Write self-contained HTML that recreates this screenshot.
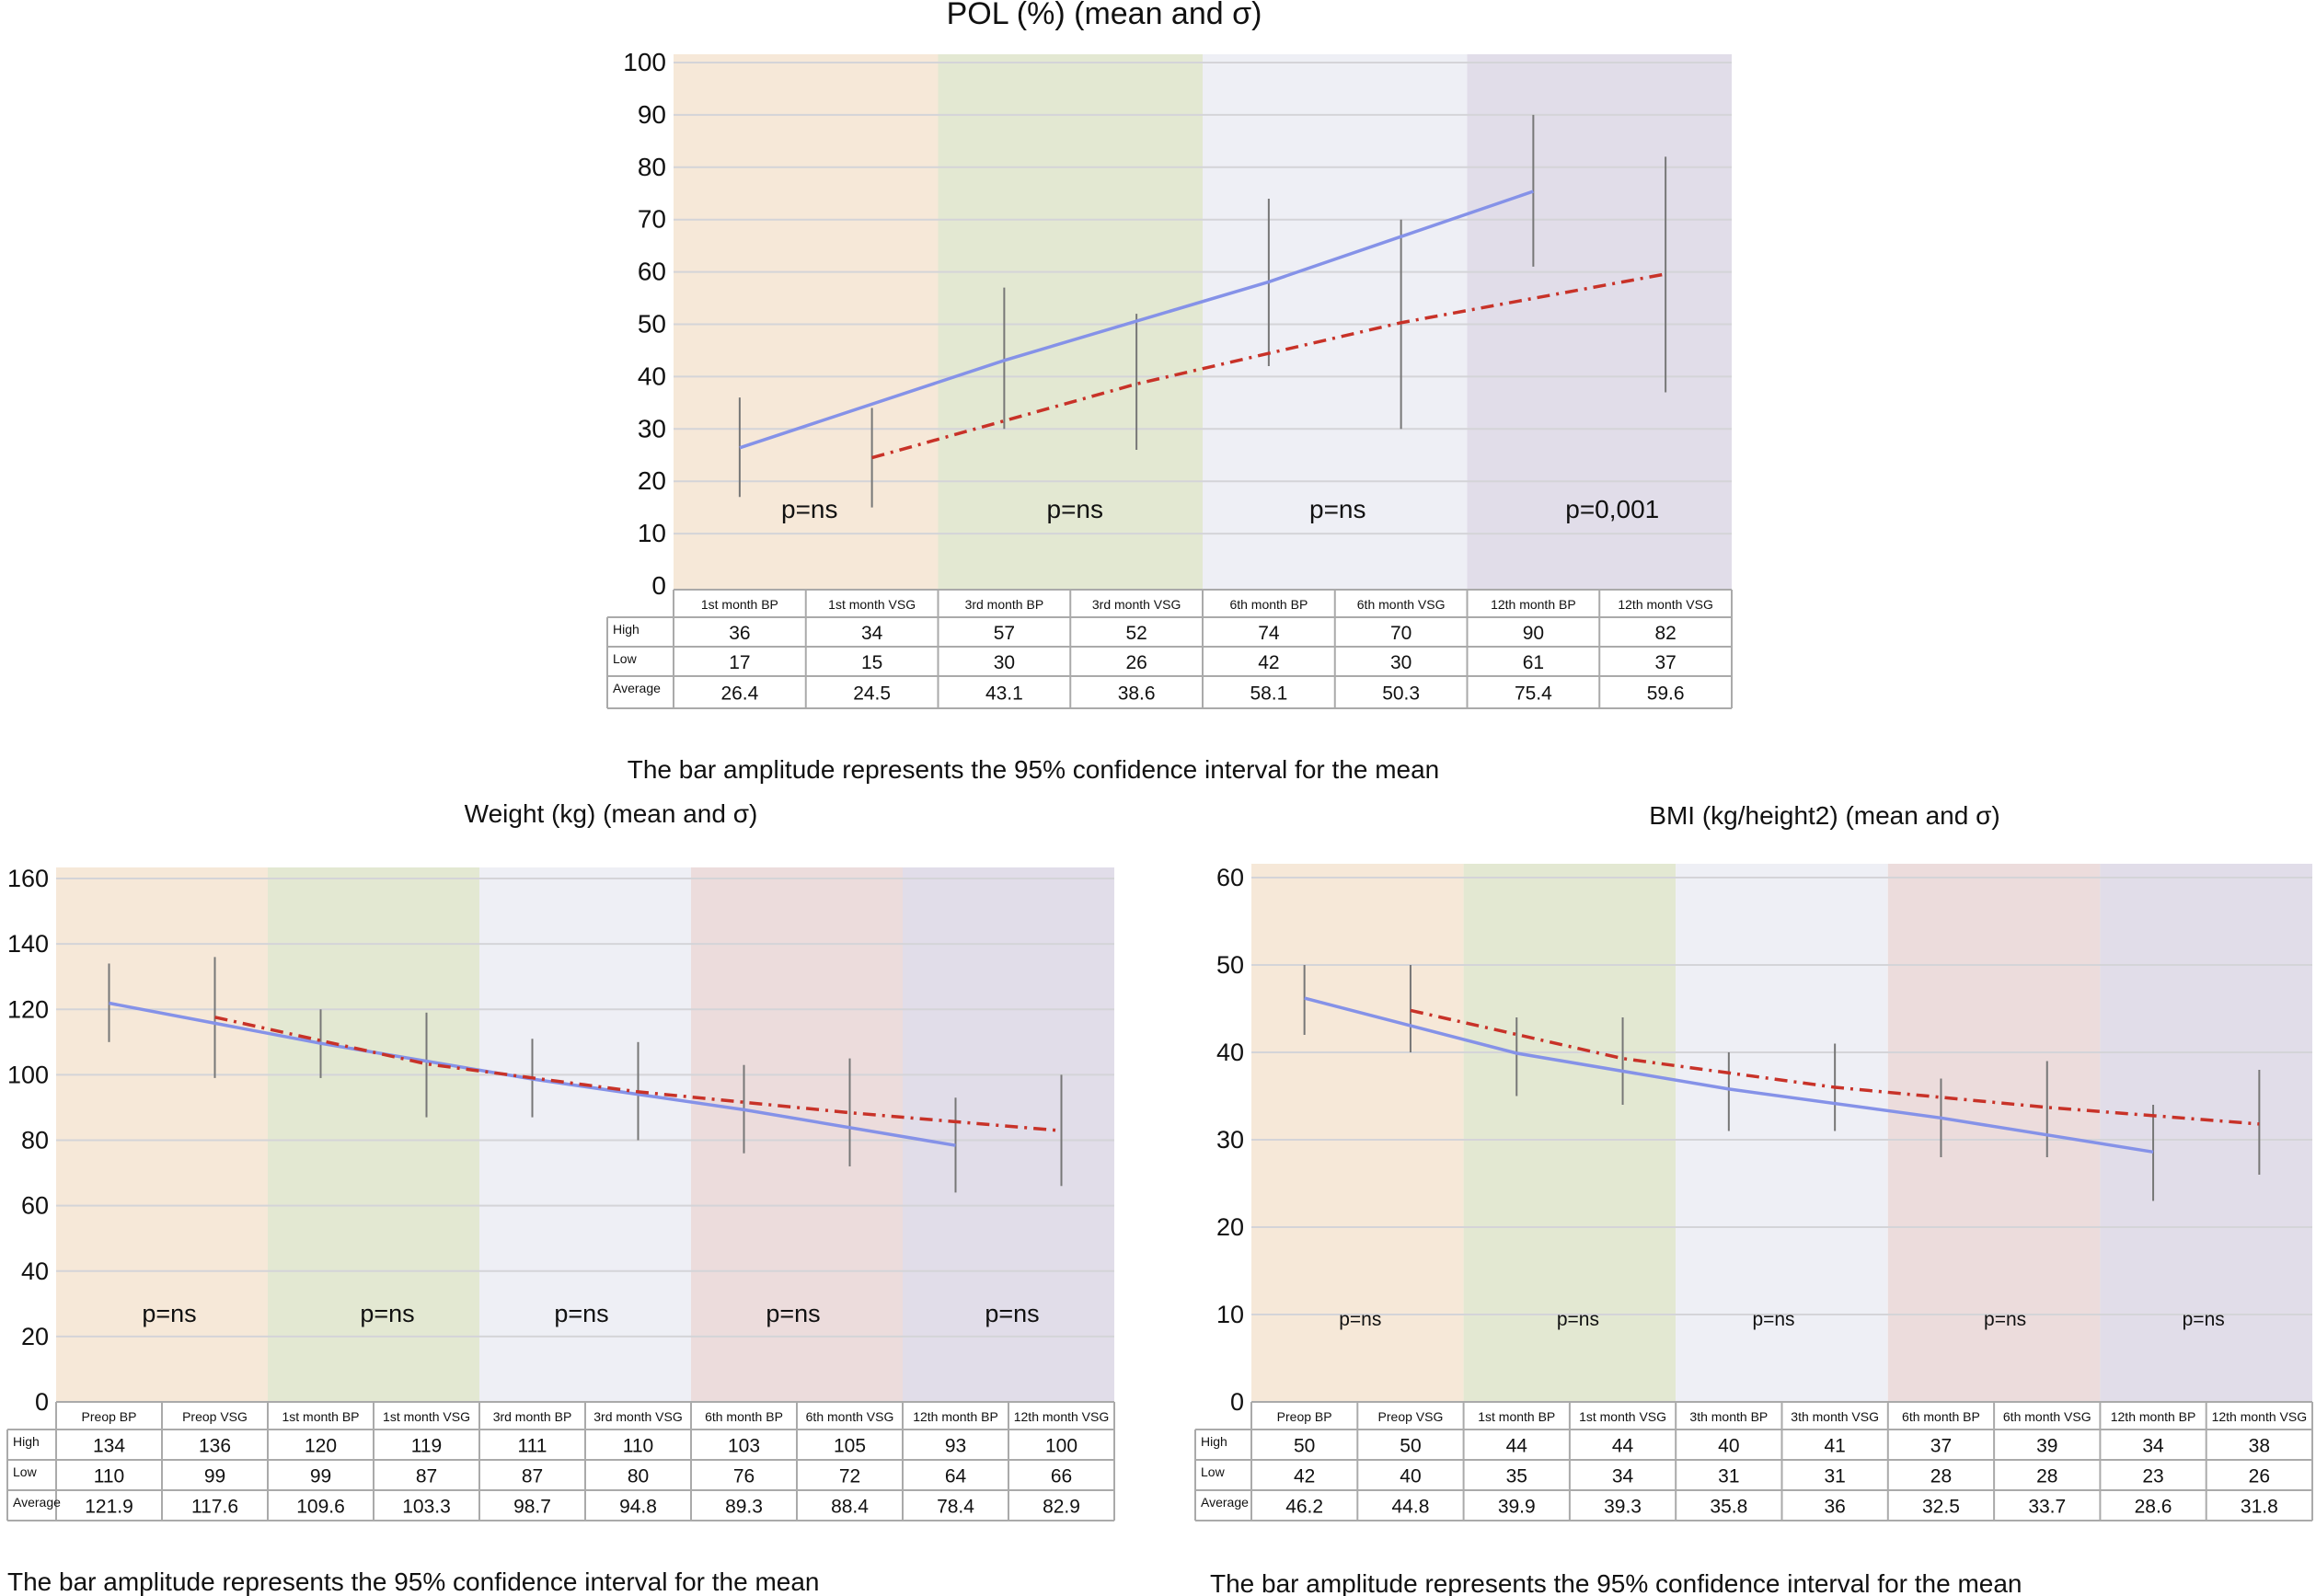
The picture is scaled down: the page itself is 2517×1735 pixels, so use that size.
<!DOCTYPE html>
<html><head><meta charset="utf-8"><style>
html,body{margin:0;padding:0;background:#fff;}
svg{display:block;font-family:"Liberation Sans",sans-serif;}
</style></head><body>
<svg id="root" width="2517" height="1735" viewBox="0 0 2517 1735"></svg>
<script>
// ---- POL chart data ----
const polCategories = ["1st month BP","1st month VSG","3rd month BP","3rd month VSG","6th month BP","6th month VSG","12th month BP","12th month VSG"];
const polHigh = [36,34,57,52,74,70,90,82];
const polLow = [17,15,30,26,42,30,61,37];
const polAvg = [26.4,24.5,43.1,38.6,58.1,50.3,75.4,59.6];
const polTicks = [0,10,20,30,40,50,60,70,80,90,100];
const polP = ["p=ns","p=ns","p=ns","p=0,001"];
// ---- Weight chart data ----
const wCategories = ["Preop BP","Preop VSG","1st month BP","1st month VSG","3rd month BP","3rd month VSG","6th month BP","6th month VSG","12th month BP","12th month VSG"];
const wHigh = [134,136,120,119,111,110,103,105,93,100];
const wLow = [110,99,99,87,87,80,76,72,64,66];
const wAvg = [121.9,117.6,109.6,103.3,98.7,94.8,89.3,88.4,78.4,82.9];
const wTicks = [0,20,40,60,80,100,120,140,160];
const wP = ["p=ns","p=ns","p=ns","p=ns","p=ns"];
// ---- BMI chart data ----
const bCategories = ["Preop BP","Preop VSG","1st month BP","1st month VSG","3th month BP","3th month VSG","6th month BP","6th month VSG","12th month BP","12th month VSG"];
const bHigh = [50,50,44,44,40,41,37,39,34,38];
const bLow = [42,40,35,34,31,31,28,28,23,26];
const bAvg = [46.2,44.8,39.9,39.3,35.8,36,32.5,33.7,28.6,31.8];
const bTicks = [0,10,20,30,40,50,60];
const bP = ["p=ns","p=ns","p=ns","p=ns","p=ns"];

const NS="http://www.w3.org/2000/svg";
const root=document.getElementById('root');
function mk(tag,attrs,parent){const e=document.createElementNS(NS,tag);for(const k in attrs)e.setAttribute(k,attrs[k]);(parent||root).appendChild(e);return e;}

function chart(cfg){
  const g=mk('g',{});
  
  
  const n=cfg.cats.length;
  const colW=(cfg.x1-cfg.x0)/n;
  const xc=i=>cfg.x0+(i+0.5)*colW;
  const ymax=cfg.ticks[cfg.ticks.length-1];
  const y=v=>cfg.yb-(v/ymax)*(cfg.yb-cfg.yt);
  const nb=cfg.bands.length;
  for(let b=0;b<nb;b++){
    const r=mk('rect',{x:cfg.x0+b*2*colW,y:cfg.top,width:2*colW,height:cfg.rows[0]-cfg.top,fill:cfg.bands[b]},g);
    
    
  }
  cfg.ticks.forEach(t=>{
    if(t>0){const l=mk('line',{x1:cfg.x0,x2:cfg.x1,y1:y(t),y2:y(t),stroke:'#d4d4d8','stroke-width':2},g);
      
      }
    const tx=mk('text',{x:cfg.x0-8,y:y(t)+9,'text-anchor':'end','font-size':cfg.tickFs,fill:'#111'},g);
    tx.textContent=t;
    
    
  });
  cfg.p.forEach((p,b)=>{
    const t=mk('text',{x:cfg.x0+(b*2+1)*colW+(cfg.pdx?cfg.pdx[b]:0),y:cfg.py,'text-anchor':'middle','font-size':cfg.pFs,fill:'#111'},g);
    t.textContent=p;
    
    
  });
  for(let i=0;i<n;i++){
    const l=mk('line',{x1:xc(i),x2:xc(i),y1:y(cfg.high[i]),y2:y(cfg.low[i]),stroke:'#777','stroke-width':2},g);
    
    
  }
  let bp='',vsg='';
  for(let i=0;i<n;i++){
    const s=xc(i).toFixed(1)+','+y(cfg.avg[i]).toFixed(1)+' ';
    if(i%2===0)bp+=s;else vsg+=s;
  }
  const lb=mk('polyline',{points:bp,fill:'none',stroke:'#8592e8','stroke-width':3.5},g);
  
  
  const lr=mk('polyline',{points:vsg,fill:'none',stroke:'#c83228','stroke-width':3.5,'stroke-dasharray':'14,7,3,7'},g);
  
  
  const tg=mk('g',{},g);
  
  
  const rows=cfg.rows;
  const st={stroke:'#aaa','stroke-width':2};
  mk('line',Object.assign({x1:cfg.x0,x2:cfg.x1,y1:rows[0],y2:rows[0]},st),tg);
  for(let r=1;r<rows.length;r++) mk('line',Object.assign({x1:cfg.tl,x2:cfg.x1,y1:rows[r],y2:rows[r]},st),tg);
  mk('line',Object.assign({x1:cfg.tl,x2:cfg.tl,y1:rows[1],y2:rows[4]},st),tg);
  for(let i=0;i<=n;i++) mk('line',Object.assign({x1:cfg.x0+i*colW,x2:cfg.x0+i*colW,y1:rows[0],y2:rows[4]},st),tg);
  const labels=["High","Low","Average"];
  labels.forEach((lab,r)=>{
    const t=mk('text',{x:cfg.tl+6,y:rows[r+1]+18,'font-size':cfg.hFs,fill:'#111'},tg);
    t.textContent=lab;
    
    
  });
  const vals=[cfg.high,cfg.low,cfg.avg];
  for(let i=0;i<n;i++){
    const h=mk('text',{x:xc(i),y:(rows[0]+rows[1])/2+6,'text-anchor':'middle','font-size':cfg.hFs,fill:'#111'},tg);
    h.textContent=cfg.cats[i];
    
    
    for(let r=0;r<3;r++){
      const t=mk('text',{x:xc(i),y:(rows[r+1]+rows[r+2])/2+8,'text-anchor':'middle','font-size':cfg.vFs,fill:'#111'},tg);
      t.textContent=vals[r][i];
      
      
    }
  }
  const ti=mk('text',{x:cfg.tx,y:cfg.ty,'text-anchor':'middle','font-size':cfg.tFs,fill:'#111'},g);
  ti.textContent=cfg.title;
  
  
  const ca=mk('text',{x:cfg.cx,y:cfg.cy,'text-anchor':cfg.canchor,'font-size':cfg.cFs,fill:'#111'},g);
  ca.textContent="The bar amplitude represents the 95% confidence interval for the mean";
  
  
}

chart({name:'pol-chart',cats:polCategories,high:polHigh,low:polLow,avg:polAvg,ticks:polTicks,p:polP,
  x0:732,x1:1882,top:59,yt:68,yb:637,bands:['#f6e8d8','#e3e8d2','#eeeff5','#e1dde9'],
  tickFs:28,pFs:28,py:563,pdx:[4,5,3,14],rows:[641,671,703,735,770],tl:660,hFs:14,vFs:21,
  title:'POL (%) (mean and σ)',tx:1200,ty:26,tFs:34,cx:1123,cy:846,canchor:'middle',cFs:28});
chart({name:'weight-chart',cats:wCategories,high:wHigh,low:wLow,avg:wAvg,ticks:wTicks,p:wP,
  x0:61,x1:1211,top:943,yt:955,yb:1524,bands:['#f6e8d8','#e3e8d2','#eeeff5','#ecdcdc','#e1dde9'],
  tickFs:27,pFs:27,py:1437,pdx:[8,15,-4,-4,4],rows:[1524,1554,1587,1620,1653],tl:8,hFs:14,vFs:21,
  title:'Weight (kg) (mean and σ)',tx:664,ty:894,tFs:28,cx:8,cy:1729,canchor:'start',cFs:28});
chart({name:'bmi-chart',cats:bCategories,high:bHigh,low:bLow,avg:bAvg,ticks:bTicks,p:bP,
  x0:1360,x1:2513,top:939,yt:954,yb:1524,bands:['#f6e8d8','#e3e8d2','#eeeff5','#ecdcdc','#e1dde9'],
  tickFs:27,pFs:21,py:1441,pdx:[3,9,-9,12,-3],rows:[1524,1554,1587,1620,1653],tl:1299,hFs:14,vFs:21,
  title:'BMI (kg/height2) (mean and σ)',tx:1983,ty:896,tFs:28,cx:1315,cy:1731,canchor:'start',cFs:28});
</script>
</body></html>
